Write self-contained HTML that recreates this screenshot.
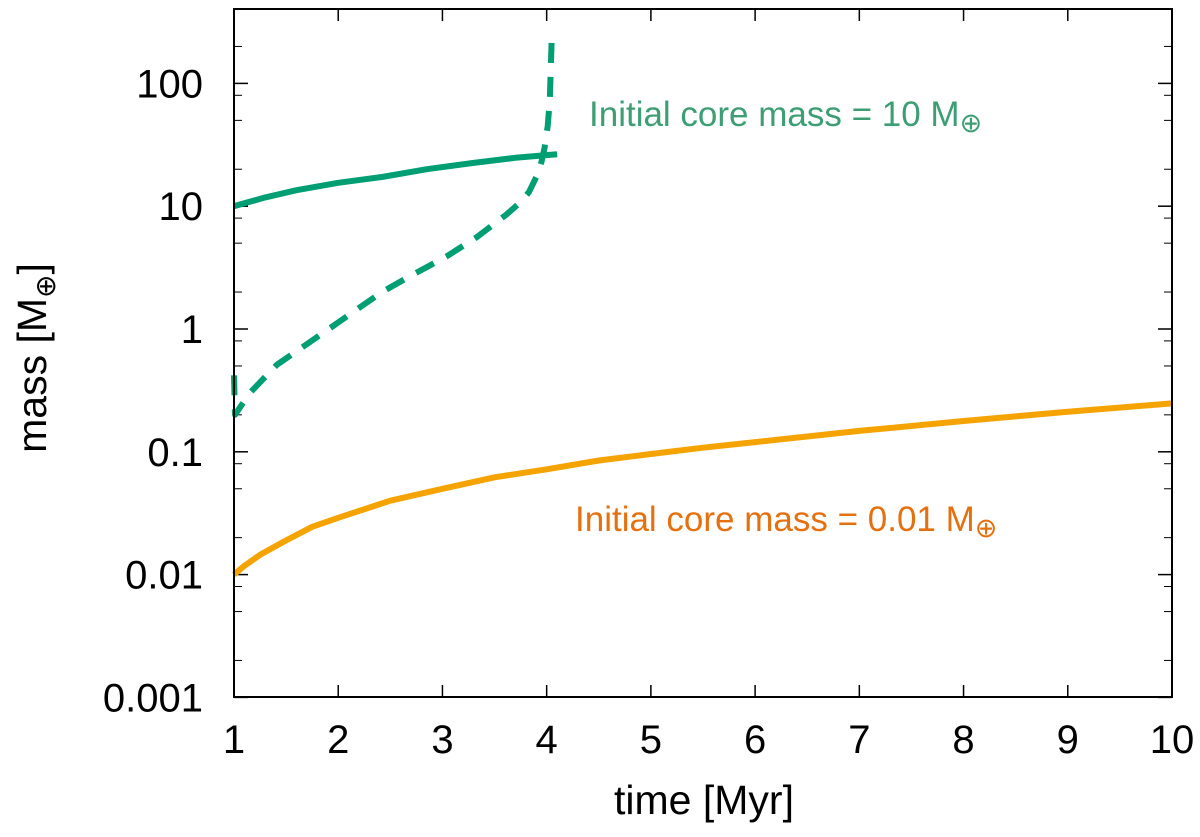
<!DOCTYPE html>
<html><head><meta charset="utf-8"><style>
html,body{margin:0;padding:0;background:#fff;}
svg{display:block;font-family:"Liberation Sans","DejaVu Sans",sans-serif;}
</style></head><body>
<svg id="chart" width="1200" height="837" viewBox="0 0 1200 837" xmlns="http://www.w3.org/2000/svg">
<g id="grid"></g>
<g id="series"></g>
<rect x="234" y="9" width="938" height="688" fill="none" stroke="#000" stroke-width="2"/>
<text x="704" y="814" font-size="41" text-anchor="middle">time [Myr]</text>
<text transform="translate(46,358) rotate(-90)" font-size="41" text-anchor="middle">mass [M<tspan font-size="28" dy="9">⊕</tspan><tspan dy="-9">]</tspan></text>
<text x="589" y="126" font-size="35" fill="#3d9e74">Initial core mass = 10 M<tspan font-size="27" dy="6">⊕</tspan></text>
<text x="575" y="531" font-size="35" fill="#e5700f">Initial core mass = 0.01 M<tspan font-size="27" dy="6">⊕</tspan></text>
</svg>
<script>
const xTicks = [1,2,3,4,5,6,7,8,9,10];
const yTicks = [0.001,0.01,0.1,1,10,100];
const yTickLabels = ["0.001","0.01","0.1","1","10","100"];
const solidGreenT = [1,1.3,1.6,2,2.42,2.85,3.29,3.7,4.1];
const solidGreenM = [10,11.8,13.5,15.5,17.3,20,22.5,24.8,26.5];
const dashedGreenT = [1,1.01,1.15,1.41,1.91,2.42,2.71,3.04,3.33,3.61,3.75,3.83,3.91,3.95,3.98,4.01,4.03,4.05];
const dashedGreenM = [0.42,0.2,0.3,0.51,1.0,2.0,2.75,3.9,5.6,8.5,10.8,13,18,23,30,45,73,260];
const orangeT = [1,1.1,1.25,1.5,1.75,2,2.5,3,3.5,4,4.5,5,5.5,6,7,8,9,10];
const orangeM = [0.01,0.0118,0.0145,0.019,0.0245,0.029,0.04,0.05,0.062,0.072,0.085,0.096,0.108,0.12,0.148,0.178,0.212,0.248];

const X0=234,X1=1172,Ytop=9,Ybot=697;
function xs(t){return X0+(t-1)/9*(X1-X0);}
function ys(m){return 329-Math.log10(m)*122.8;}
const NS="http://www.w3.org/2000/svg";
const grid=document.getElementById('grid');
const ser=document.getElementById('series');
function mk(tag,attrs,parent){const e=document.createElementNS(NS,tag);for(const k in attrs)e.setAttribute(k,attrs[k]);parent.appendChild(e);return e;}

xTicks.forEach(t=>{
  const x=xs(t);
  const a=mk('line',{x1:x,x2:x,y1:Ybot,y2:Ybot-12,stroke:'#000','stroke-width':1.5},grid);
  
  
  const b=mk('line',{x1:x,x2:x,y1:Ytop,y2:Ytop+12,stroke:'#000','stroke-width':1.5},grid);
  
  
  const l=mk('text',{x:x,y:Ybot+56,'font-size':40,'text-anchor':'middle'},grid);
  l.textContent=t;
  
  
});
yTicks.forEach((v,i)=>{
  const y=ys(v);
  const a=mk('line',{x1:X0,x2:X0+14,y1:y,y2:y,stroke:'#000','stroke-width':1.5},grid);
  
  
  const b=mk('line',{x1:X1,x2:X1-14,y1:y,y2:y,stroke:'#000','stroke-width':1.5},grid);
  
  
  const l=mk('text',{x:203,y:y+14,'font-size':40,'text-anchor':'end'},grid);
  l.textContent=yTickLabels[i];
  
  
  [2,5,8].forEach(k=>{
    const yy=ys(v*k);
    if(yy<Ytop) return;
    const m=mk('line',{x1:X0,x2:X0+8,y1:yy,y2:yy,stroke:'#000','stroke-width':1},grid);
    
    
    const m2=mk('line',{x1:X1,x2:X1-8,y1:yy,y2:yy,stroke:'#000','stroke-width':1},grid);
    
    
  });
});
function path(T,M){return T.map((t,i)=>(i?'L':'M')+xs(t).toFixed(1)+','+ys(M[i]).toFixed(1)).join(' ');}
const p1=mk('path',{d:path(orangeT,orangeM),fill:'none',stroke:'#f5a300','stroke-width':6,'stroke-linejoin':'round'},ser);


const p2=mk('path',{d:path(solidGreenT,solidGreenM),fill:'none',stroke:'#009e73','stroke-width':6,'stroke-linejoin':'round'},ser);


const p3=mk('path',{d:path(dashedGreenT,dashedGreenM),fill:'none',stroke:'#009e73','stroke-width':6,'stroke-dasharray':'20,14','stroke-linejoin':'round'},ser);


</script>
</body></html>
